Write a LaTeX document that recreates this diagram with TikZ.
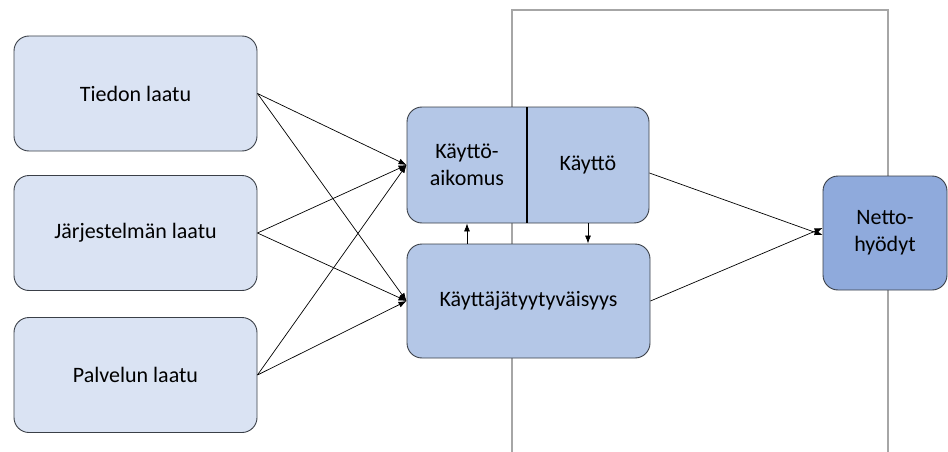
\documentclass[tikz,border=0pt]{standalone}
\usepackage{fontspec}
\setmainfont{Carlito}
\usetikzlibrary{arrows.meta}
\definecolor{lightbox}{HTML}{DAE3F3}
\definecolor{midbox}{HTML}{B4C7E7}
\definecolor{darkbox}{HTML}{8FAADC}
\definecolor{edgecol}{HTML}{3A3F47}
\definecolor{frame}{HTML}{A6A6A6}
\tikzset{
  box/.style={draw=edgecol, line width=0.9pt, rounded corners=15pt, align=center,
    font=\fontsize{22}{27}\selectfont, inner sep=0pt},
  qual/.style={box, fill=lightbox, minimum width=243pt, minimum height=115pt},
  link/.style={line width=0.7pt, -{Latex[length=8pt,width=6pt]}},
  lbl/.style={align=center, font=\fontsize{22}{27}\selectfont, inner sep=0pt},
}
\begin{document}
\begin{tikzpicture}[x=1pt,y=-1pt]
\useasboundingbox (0,0) rectangle (948,452);
% grey frame, open at the bottom
\draw[frame, line width=2.8pt] (512,452) -- (512,10) -- (888,10) -- (888,452);
% quality dimensions
\node[qual] (info) at (135.5,93.5) {Tiedon laatu};
\node[qual] (sys) at (135.5,233) {Järjestelmän laatu};
\node[qual] (serv) at (135.5,375) {Palvelun laatu};
% use box split in two
\node[box, fill=midbox, minimum width=242pt, minimum height=116pt] (use) at (528,165) {};
\node[lbl] (intent) at (467,165) {Käyttö-\\aikomus};
\node[lbl] (usage) at (588,165) {Käyttö};
\draw[line width=1.2pt, black] (527,107) -- (527,223);
% satisfaction
\node[box, fill=midbox, minimum width=243pt, minimum height=114pt] (sat) at (528.5,301) {Käyttäjätyytyväisyys};
% net benefits
\node[box, fill=darkbox, minimum width=124pt, minimum height=114pt] (net) at (885,233) {Netto-\\hyödyt};
% influences
\foreach \s in {info,sys,serv}{
  \draw[link] (\s.east) -- (use.west);
  \draw[link] (\s.east) -- (sat.west);
}
\draw[link] (sat.north -| intent) -- (use.south -| intent);
\draw[link] (use.south -| usage) -- (sat.north -| usage);
\draw[link] ([yshift=-8pt]use.east) -- ([yshift=-2pt]net.west);
\draw[link] (sat.east) -- ([yshift=5pt]net.west);
\end{tikzpicture}
\end{document}
